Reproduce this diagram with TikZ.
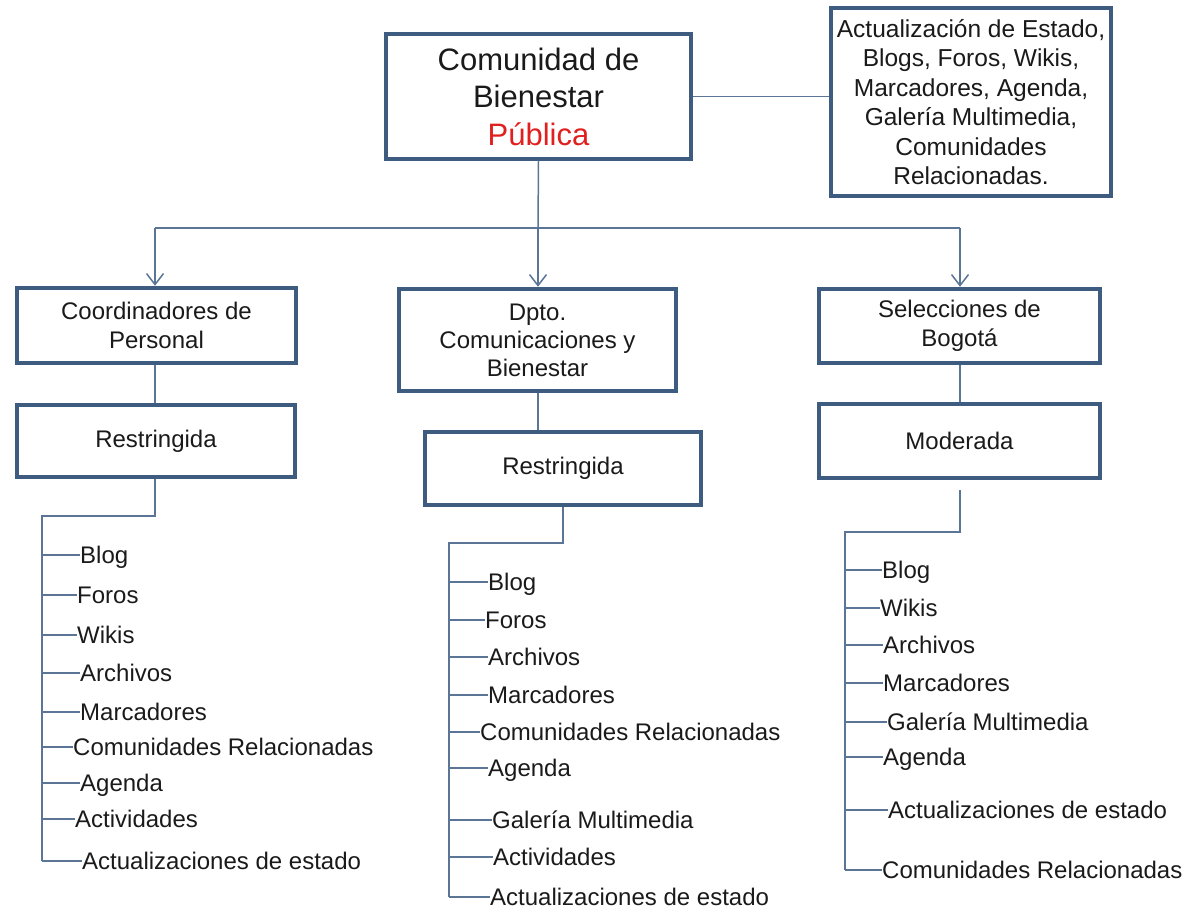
\documentclass[tikz,border=0pt]{standalone}
\usepackage{fontspec}
\setmainfont{Liberation Sans}
\usetikzlibrary{arrows.meta}
\definecolor{boxline}{HTML}{3D5C80}
\definecolor{connline}{HTML}{5A7595}
\definecolor{txt}{HTML}{1A1A1A}
\definecolor{redtxt}{HTML}{E0201E}
\begin{document}
\begin{tikzpicture}[x=1pt,y=-1pt,
  box/.style={draw=boxline, line width=4.5pt, fill=white, align=center, inner sep=0pt,
    text=txt, font=\fontsize{24}{29}\selectfont},
  conn/.style={draw=connline, line width=1.5pt},
  arr/.style={conn, -{Straight Barb[length=11pt,width=17pt,line width=1.5pt]}},
  item/.style={anchor=west, inner sep=0pt, text=txt, font=\fontsize{24}{29}\selectfont,
    text height=17pt, text depth=0pt}]
\useasboundingbox (0,0) rectangle (1195,915);
% main boxes
\node[box, minimum width=305pt, minimum height=125pt, font=\fontsize{31}{37.5}\selectfont] (top) at (538.5,96.5)
  {Comunidad de\\Bienestar\\\textcolor{redtxt}{Pública}};
\node[box, minimum width=280pt, minimum height=188pt, font=\fontsize{24.5}{29.5}\selectfont] (feat) at (971,102)
  {Actualización de Estado,\\Blogs, Foros, Wikis,\\Marcadores, Agenda,\\Galería Multimedia,\\Comunidades\\Relacionadas.};
\node[box, minimum width=279pt, minimum height=75pt] (coord) at (156.5,325.5) {Coordinadores de\\Personal};
\node[box, minimum width=278pt, minimum height=72pt] (r1) at (156,441) {Restringida};
\node[box, minimum width=277pt, minimum height=102pt, font=\fontsize{24}{28}\selectfont] (dpto) at (537.5,340) {Dpto.\\Comunicaciones y\\Bienestar};
\node[box, minimum width=276pt, minimum height=73pt] (r2) at (563,468.5) {Restringida};
\node[box, minimum width=281pt, minimum height=74pt] (sel) at (959.5,326) {Selecciones de\\Bogotá};
\node[box, minimum width=281pt, minimum height=74pt] (mod) at (959.5,441) {Moderada};
% top connectors
\draw[conn] (top.east) -- (feat.west |- top.east);
\coordinate (jn) at (538,228);
\draw[conn] (top.south) -- (jn);
\coordinate (jl) at (155,228);
\coordinate (jr) at (960,228);
\draw[conn] (jl) -- (jr);
\draw[arr] (jl) -- (jl |- coord.north);
\draw[arr] (jn) -- (jn |- dpto.north);
\draw[arr] (jr) -- (jr |- sel.north);
\draw[conn] (coord.south -| jl) -- (r1.north -| jl);
\draw[conn] (dpto.south -| jn) -- (r2.north -| jn);
\draw[conn] (sel.south -| jr) -- (mod.north -| jr);
% left tree
\coordinate (la) at (155,516);
\coordinate (lb) at (42,516);
\coordinate (lc) at (42,861);
\draw[conn] (r1.south -| la) -- (la) -- (lb) -- (lc);
\foreach \y/\x/\t [count=\i] in {555/80/Blog, 595/77/Foros, 635/77/Wikis, 673/80/Archivos, 712/80/Marcadores, 747/73/Comunidades Relacionadas, 783/80/Agenda, 819/75/Actividades, 861/82/Actualizaciones de estado}{
  \node[item] (L\i) at (\x,\y) {\t};
  \coordinate (tl\i) at (42,\y);
  \draw[conn] (tl\i) -- (L\i.west);
}
% middle tree
\coordinate (ma) at (563,543);
\coordinate (mb) at (449,543);
\coordinate (mc) at (449,897);
\draw[conn] (r2.south -| ma) -- (ma) -- (mb) -- (mc);
\foreach \y/\x/\t [count=\i] in {582/488/Blog, 620/485/Foros, 657/488/Archivos, 695/488/Marcadores, 732/480/Comunidades Relacionadas, 768/488/Agenda, 820/492/Galería Multimedia, 857/493/Actividades, 897/490/Actualizaciones de estado}{
  \node[item] (M\i) at (\x,\y) {\t};
  \coordinate (tm\i) at (449,\y);
  \draw[conn] (tm\i) -- (M\i.west);
}
% right tree
\coordinate (ra0) at (960,490);
\coordinate (ra) at (960,532);
\coordinate (rb) at (845,532);
\coordinate (rc) at (845,870);
\draw[conn] (ra0) -- (ra) -- (rb) -- (rc);
\foreach \y/\x/\t [count=\i] in {570/882/Blog, 608/880/Wikis, 645/883/Archivos, 683/883/Marcadores, 722/887/Galería Multimedia, 757/883/Agenda, 810/888/Actualizaciones de estado, 870/882/Comunidades Relacionadas}{
  \node[item] (R\i) at (\x,\y) {\t};
  \coordinate (tr\i) at (845,\y);
  \draw[conn] (tr\i) -- (R\i.west);
}
\end{tikzpicture}
\end{document}
